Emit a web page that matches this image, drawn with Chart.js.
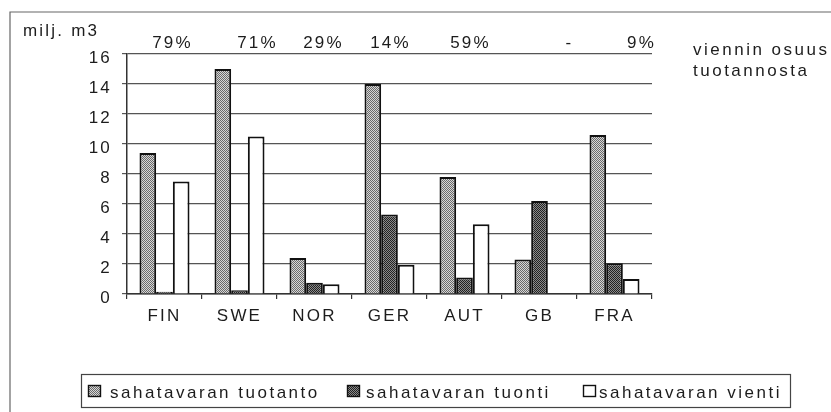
<!DOCTYPE html>
<html><head><meta charset="utf-8">
<script src="https://cdn.jsdelivr.net/npm/chart.js@4.4.1/dist/chart.umd.min.js"></script>
<style>html,body{margin:0;padding:0;background:#fff;}canvas{display:block;}</style>
</head><body>
<canvas id="c" width="831" height="412"></canvas>
<script>
// ---- data ----
const categories = ['FIN', 'SWE', 'NOR', 'GER', 'AUT', 'GB', 'FRA'];
const production = [9.4, 15.0, 2.4, 14.0, 7.8, 2.3, 10.6];
const imports = [0.15, 0.25, 0.75, 5.3, 1.1, 6.2, 2.05];
const exportsData = [7.5, 10.5, 0.65, 1.95, 4.65, 0, 1.0];
const exportShare = ['79%', '71%', '29%', '14%', '59%', '-', '9%'];
const seriesNames = ['sahatavaran tuotanto', 'sahatavaran tuonti', 'sahatavaran vienti'];
const yAxisTitle = 'milj. m3';
const shareTitle = ['viennin osuus', 'tuotannosta'];
const yMin = 0, yMax = 16, yStep = 2;

// ---- layout constants ----
const FONT = "'Liberation Sans', Arial, sans-serif";
const TXT = '#1c1c1c';
const SPACING = '2.2px';
const shareNudge = [8, 18, 9, 1, 6, 30, 27];
const legendItemX = [88, 347, 583];
const legendTextGap = [8, 5, 2];

const canvas = document.getElementById('c');
const ctx = canvas.getContext('2d');
function makePattern(light, dark) {
  const p = document.createElement('canvas');
  p.width = 2; p.height = 2;
  const g = p.getContext('2d');
  g.fillStyle = light; g.fillRect(0, 0, 2, 2);
  g.fillStyle = dark; g.fillRect(0, 0, 1, 1); g.fillRect(1, 1, 1, 1);
  return ctx.createPattern(p, 'repeat');
}
const fills = [makePattern('#d6d6d6', '#6a6a6a'), makePattern('#8a8a8a', '#222222'), '#ffffff'];

const spacingPlugin = {
  id: 'spacing',
  beforeUpdate(chart) { chart.ctx.letterSpacing = SPACING; },
  beforeLayout(chart) { chart.ctx.letterSpacing = SPACING; },
  beforeDraw(chart) {
    const c = chart.ctx;
    c.letterSpacing = SPACING;
    c.save();
    c.strokeStyle = '#666';
    c.lineWidth = 1.2;
    c.beginPath();
    c.moveTo(10, 412); c.lineTo(10, 12); c.lineTo(831, 12);
    c.stroke();
    c.restore();
  }
};

const annotPlugin = {
  id: 'annot',
  afterDraw(chart) {
    const c = chart.ctx;
    const xs = chart.scales.x;
    c.save();
    c.letterSpacing = SPACING;
    c.fillStyle = TXT;
    // y axis title
    c.font = '17px ' + FONT;
    c.textAlign = 'left'; c.textBaseline = 'alphabetic';
    c.fillText(yAxisTitle, 23, 36);
    // export share labels
    c.textAlign = 'center';
    exportShare.forEach((s, i) => {
      c.fillText(s, xs.getPixelForValue(i) + shareNudge[i], 48);
    });
    // right annotation
    c.textAlign = 'left';
    c.letterSpacing = '2.5px';
    c.fillText(shareTitle[0], 693, 55);
    c.fillText(shareTitle[1], 693, 76);
    // legend
    c.strokeStyle = '#444'; c.lineWidth = 1.2;
    c.strokeRect(81.5, 374.5, 709, 33);
    chart.data.datasets.forEach((ds, i) => {
      const x = legendItemX[i];
      c.fillStyle = ds.backgroundColor;
      c.fillRect(x, 385, 13, 12);
      c.strokeStyle = '#111'; c.lineWidth = 1.4;
      c.strokeRect(x + 0.5, 385.5, 12, 11);
      c.fillStyle = TXT;
      c.font = '17px ' + FONT;
      c.fillText(ds.label, x + 14 + legendTextGap[i], 398);
    });
    c.restore();
  }
};

new Chart(ctx, {
  type: 'bar',
  data: {
    labels: categories,
    datasets: [production, imports, exportsData].map((d, i) => ({
      label: seriesNames[i],
      data: d,
      backgroundColor: fills[i],
      borderColor: '#111',
      borderWidth: 2,
      categoryPercentage: 0.667,
      barPercentage: 1.0
    }))
  },
  options: {
    responsive: false,
    animation: false,
    events: [],
    layout: { padding: { left: 0, right: 179, top: 54, bottom: 0 } },
    plugins: { legend: { display: false }, tooltip: { enabled: false } },
    scales: {
      x: {
        afterFit(s) { s.height = 118; },
        grid: { display: true, drawOnChartArea: false, drawTicks: true, tickLength: 5, offset: true, color: '#333', lineWidth: 1.2 },
        border: { display: true, color: '#333', width: 1.5 },
        ticks: { color: TXT, font: { family: FONT, size: 17 }, padding: 7, maxRotation: 0 }
      },
      y: {
        min: yMin, max: yMax,
        afterFit(s) { s.width = 127; },
        grid: { color: '#555', lineWidth: 1.2, tickLength: 5, drawTicks: true },
        border: { display: true, color: '#333', width: 1.5 },
        ticks: { stepSize: yStep, color: TXT, font: { family: FONT, size: 17 }, padding: 10, labelOffset: 4 }
      }
    }
  },
  plugins: [spacingPlugin, annotPlugin]
});
</script>
</body></html>
